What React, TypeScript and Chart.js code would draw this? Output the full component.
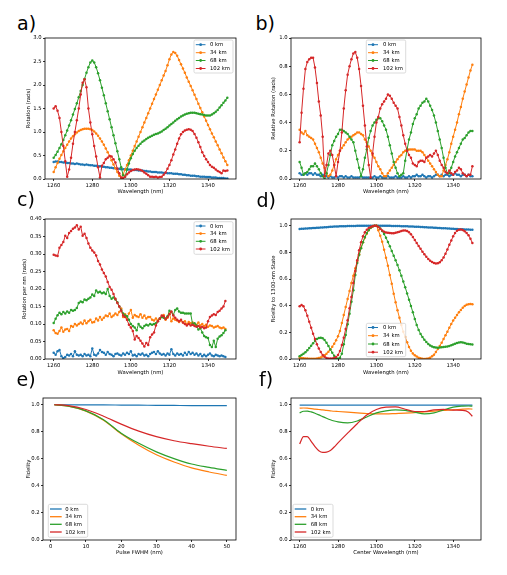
import React, { useEffect, useRef } from "react";
import { Chart, registerables } from "chart.js";

Chart.register(...registerables);

// ---------------- data ----------------
const SERIES_LABELS = ["0 km", "34 km", "68 km", "102 km"];
const SERIES_COLORS = ["#1f77b4", "#ff7f0e", "#2ca02c", "#d62728"];

const WAVELENGTH_NM = [
  1260, 1261, 1262, 1263, 1264, 1265, 1266, 1267, 1268, 1269,
  1270, 1271, 1272, 1273, 1274, 1275, 1276, 1277, 1278, 1279,
  1280, 1281, 1282, 1283, 1284, 1285, 1286, 1287, 1288, 1289,
  1290, 1291, 1292, 1293, 1294, 1295, 1296, 1297, 1298, 1299,
  1300, 1301, 1302, 1303, 1304, 1305, 1306, 1307, 1308, 1309,
  1310, 1311, 1312, 1313, 1314, 1315, 1316, 1317, 1318, 1319,
  1320, 1321, 1322, 1323, 1324, 1325, 1326, 1327, 1328, 1329,
  1330, 1331, 1332, 1333, 1334, 1335, 1336, 1337, 1338, 1339,
  1340, 1341, 1342, 1343, 1344, 1345, 1346, 1347, 1348, 1349,
  1350,
];

// a) Rotation (rads)
const A_0KM = [
  0.36, 0.37, 0.37, 0.36, 0.36, 0.35, 0.35, 0.34, 0.34, 0.33,
  0.33, 0.32, 0.33, 0.32, 0.31, 0.31, 0.30, 0.31, 0.30, 0.29,
  0.29, 0.28, 0.28, 0.27, 0.27, 0.26, 0.26, 0.25, 0.25, 0.24,
  0.24, 0.23, 0.23, 0.22, 0.22, 0.21, 0.21, 0.21, 0.20, 0.20,
  0.20, 0.19, 0.19, 0.19, 0.18, 0.18, 0.18, 0.17, 0.17, 0.16,
  0.16, 0.15, 0.15, 0.15, 0.14, 0.14, 0.14, 0.13, 0.13, 0.12,
  0.12, 0.12, 0.11, 0.11, 0.11, 0.10, 0.10, 0.09, 0.09, 0.08,
  0.08, 0.07, 0.07, 0.07, 0.06, 0.06, 0.05, 0.05, 0.05, 0.04,
  0.04, 0.04, 0.03, 0.03, 0.03, 0.02, 0.02, 0.02, 0.02, 0.01,
  0.01,
];
const A_34KM = [
  0.15, 0.25, 0.34, 0.43, 0.51, 0.59, 0.66, 0.73, 0.80, 0.86,
  0.91, 0.95, 0.99, 1.02, 1.04, 1.06, 1.07, 1.07, 1.07, 1.06,
  1.04, 1.01, 0.97, 0.92, 0.86, 0.80, 0.73, 0.65, 0.57, 0.49,
  0.40, 0.31, 0.23, 0.15, 0.07, 0.01, 0.10, 0.20, 0.30, 0.40,
  0.50, 0.60, 0.70, 0.80, 0.90, 1.00, 1.10, 1.20, 1.30, 1.40,
  1.50, 1.60, 1.70, 1.80, 1.90, 2.00, 2.10, 2.20, 2.30, 2.42,
  2.55, 2.65, 2.70, 2.68, 2.62, 2.53, 2.44, 2.35, 2.26, 2.16,
  2.07, 1.98, 1.89, 1.79, 1.70, 1.60, 1.51, 1.42, 1.33, 1.24,
  1.15, 1.06, 0.97, 0.89, 0.80, 0.72, 0.63, 0.55, 0.46, 0.38,
  0.30,
];
const A_68KM = [
  0.45, 0.51, 0.58, 0.66, 0.74, 0.83, 0.93, 1.03, 1.14, 1.25,
  1.37, 1.49, 1.61, 1.74, 1.87, 2.00, 2.13, 2.26, 2.38, 2.48,
  2.52, 2.48, 2.38, 2.25, 2.10, 1.94, 1.78, 1.61, 1.44, 1.27,
  1.10, 0.93, 0.76, 0.59, 0.42, 0.25, 0.08, 0.05, 0.20, 0.33,
  0.44, 0.53, 0.60, 0.66, 0.71, 0.75, 0.79, 0.82, 0.85, 0.88,
  0.90, 0.92, 0.94, 0.96, 0.97, 0.99, 1.01, 1.04, 1.07, 1.10,
  1.14, 1.17, 1.20, 1.24, 1.27, 1.30, 1.33, 1.35, 1.37, 1.39,
  1.40, 1.41, 1.41, 1.41, 1.40, 1.39, 1.38, 1.37, 1.36, 1.35,
  1.35, 1.35, 1.37, 1.40, 1.43, 1.47, 1.52, 1.57, 1.62, 1.67,
  1.73,
];
const A_102KM = [
  1.50, 1.55, 1.45, 1.30, 1.00, 0.70, 0.38, 0.05, 0.20, 0.45,
  0.75, 1.00, 1.25, 1.50, 1.80, 2.05, 2.12, 1.95, 1.50, 1.20,
  0.95, 0.70, 0.48, 0.25, 0.03, 0.28, 0.34, 0.42, 0.45, 0.49,
  0.48, 0.42, 0.35, 0.22, 0.12, 0.03, 0.02, 0.05, 0.10, 0.14,
  0.17, 0.19, 0.20, 0.21, 0.20, 0.19, 0.17, 0.14, 0.11, 0.08,
  0.05, 0.05, 0.04, 0.05, 0.03, 0.04, 0.05, 0.09, 0.14, 0.22,
  0.30, 0.40, 0.52, 0.63, 0.75, 0.86, 0.95, 1.00, 1.03, 1.05,
  1.06, 1.05, 1.02, 0.96, 0.88, 0.78, 0.68, 0.57, 0.49, 0.42,
  0.36, 0.30, 0.26, 0.24, 0.20, 0.17, 0.15, 0.12, 0.18, 0.17,
  0.18,
];

// b) Relative Rotation (rads)
const B_0KM = [
  0.04, 0.03, 0.03, 0.04, 0.03, 0.04, 0.04, 0.03, 0.04, 0.03,
  0.03, 0.02, 0.03, 0.02, 0.02, 0.01, 0.02, 0.01, 0.01, 0.02,
  0.01, 0.02, 0.02, 0.01, 0.02, 0.01, 0.01, 0.02, 0.01, 0.01,
  0.01, 0.01, 0.02, 0.01, 0.01, 0.01, 0.01, 0.01, 0.01, 0.02,
  0.01, 0.01, 0.02, 0.01, 0.01, 0.01, 0.02, 0.01, 0.01, 0.01,
  0.02, 0.01, 0.01, 0.01, 0.02, 0.01, 0.01, 0.02, 0.01, 0.02,
  0.02, 0.03, 0.02, 0.02, 0.03, 0.02, 0.01, 0.02, 0.02, 0.01,
  0.02, 0.03, 0.03, 0.02, 0.03, 0.02, 0.03, 0.03, 0.02, 0.03,
  0.03, 0.04, 0.03, 0.03, 0.02, 0.03, 0.03, 0.02, 0.03, 0.02,
  0.02,
];
const B_34KM = [
  0.35, 0.33, 0.32, 0.34, 0.31, 0.30, 0.29, 0.28, 0.25, 0.22,
  0.19, 0.15, 0.11, 0.08, 0.04, 0.02, 0.03, 0.06, 0.10, 0.14,
  0.17, 0.20, 0.22, 0.24, 0.26, 0.28, 0.29, 0.30, 0.31, 0.32,
  0.33, 0.33, 0.32, 0.31, 0.28, 0.26, 0.23, 0.20, 0.17, 0.15,
  0.12, 0.09, 0.07, 0.04, 0.02, 0.02, 0.04, 0.06, 0.08, 0.10,
  0.12, 0.14, 0.16, 0.17, 0.19, 0.20, 0.20, 0.21, 0.21, 0.21,
  0.21, 0.20, 0.20, 0.20, 0.19, 0.17, 0.15, 0.13, 0.11, 0.09,
  0.07, 0.05, 0.03, 0.02, 0.02, 0.06, 0.10, 0.14, 0.19, 0.25,
  0.30, 0.35, 0.40, 0.46, 0.51, 0.57, 0.62, 0.67, 0.72, 0.77,
  0.81,
];
const B_68KM = [
  0.12, 0.08, 0.03, 0.04, 0.05, 0.07, 0.09, 0.09, 0.11, 0.09,
  0.07, 0.04, 0.02, 0.00, 0.04, 0.10, 0.17, 0.24, 0.27, 0.30,
  0.32, 0.35, 0.35, 0.34, 0.33, 0.32, 0.30, 0.28, 0.26, 0.20,
  0.14, 0.08, 0.02, 0.07, 0.15, 0.21, 0.29, 0.34, 0.38, 0.40,
  0.42, 0.43, 0.43, 0.41, 0.38, 0.35, 0.30, 0.24, 0.18, 0.12,
  0.08, 0.04, 0.02, 0.03, 0.04, 0.13, 0.21, 0.28, 0.33, 0.39,
  0.43, 0.46, 0.50, 0.52, 0.54, 0.55, 0.57, 0.55, 0.52, 0.49,
  0.45, 0.40, 0.34, 0.28, 0.22, 0.15, 0.08, 0.04, 0.04, 0.08,
  0.12, 0.16, 0.19, 0.22, 0.25, 0.28, 0.29, 0.31, 0.33, 0.34,
  0.34,
];
const B_102KM = [
  0.26, 0.47, 0.64, 0.78, 0.83, 0.85, 0.86, 0.86, 0.79, 0.68,
  0.55, 0.45, 0.30, 0.02, 0.10, 0.18, 0.20, 0.17, 0.10, 0.02,
  0.12, 0.20, 0.33, 0.50, 0.63, 0.74, 0.80, 0.85, 0.89, 0.90,
  0.86, 0.78, 0.66, 0.52, 0.38, 0.23, 0.10, 0.01, 0.18, 0.30,
  0.40, 0.44, 0.50, 0.53, 0.55, 0.57, 0.60, 0.59, 0.57, 0.54,
  0.52, 0.50, 0.44, 0.38, 0.31, 0.25, 0.20, 0.17, 0.15, 0.11,
  0.10, 0.09, 0.12, 0.13, 0.13, 0.12, 0.15, 0.16, 0.17, 0.16,
  0.18, 0.20, 0.17, 0.13, 0.10, 0.08, 0.05, 0.04, 0.06, 0.04,
  0.03, 0.05, 0.06, 0.08, 0.07, 0.04, 0.03, 0.02, 0.03, 0.03,
  0.09,
];

// c) Rotation per nm (rads), 1260..1349
const C_0KM = [
  0.018, 0.012, 0.022, 0.026, 0.008, 0.002, 0.006, 0.012, 0.010, 0.014,
  0.008, 0.022, 0.012, 0.010, 0.012, 0.008, 0.014, 0.010, 0.012, 0.008,
  0.030, 0.012, 0.010, 0.016, 0.026, 0.020, 0.018, 0.012, 0.020, 0.014,
  0.012, 0.008, 0.014, 0.016, 0.012, 0.010, 0.016, 0.012, 0.018, 0.014,
  0.022, 0.010, 0.012, 0.008, 0.014, 0.012, 0.016, 0.010, 0.012, 0.008,
  0.014, 0.018, 0.020, 0.014, 0.022, 0.016, 0.012, 0.014, 0.010, 0.016,
  0.012, 0.028, 0.014, 0.010, 0.016, 0.012, 0.014, 0.010, 0.018, 0.012,
  0.020, 0.014, 0.018, 0.012, 0.016, 0.010, 0.014, 0.008, 0.012, 0.008,
  0.012, 0.016, 0.010, 0.008, 0.012, 0.010, 0.008, 0.010, 0.008, 0.006,
];
const C_34KM = [
  0.082, 0.074, 0.072, 0.080, 0.090, 0.078, 0.084, 0.086, 0.080, 0.094,
  0.092, 0.100, 0.096, 0.100, 0.104, 0.100, 0.110, 0.102, 0.108, 0.112,
  0.104, 0.106, 0.116, 0.110, 0.120, 0.112, 0.118, 0.124, 0.122, 0.130,
  0.120, 0.124, 0.130, 0.126, 0.134, 0.144, 0.120, 0.128, 0.118, 0.130,
  0.140, 0.118, 0.126, 0.122, 0.120, 0.128, 0.118, 0.124, 0.116, 0.120,
  0.120, 0.112, 0.110, 0.116, 0.110, 0.114, 0.120, 0.126, 0.112, 0.118,
  0.130, 0.108, 0.116, 0.112, 0.110, 0.106, 0.110, 0.104, 0.108, 0.100,
  0.106, 0.102, 0.104, 0.100, 0.098, 0.104, 0.096, 0.100, 0.094, 0.098,
  0.092, 0.096, 0.094, 0.090, 0.092, 0.094, 0.090, 0.088, 0.090, 0.086,
];
const C_68KM = [
  0.103, 0.115, 0.125, 0.132, 0.128, 0.134, 0.130, 0.136, 0.132, 0.140,
  0.138, 0.140, 0.146, 0.160, 0.164, 0.162, 0.170, 0.168, 0.172, 0.176,
  0.184, 0.180, 0.196, 0.190, 0.192, 0.188, 0.190, 0.186, 0.200, 0.180,
  0.172, 0.176, 0.170, 0.162, 0.150, 0.140, 0.130, 0.124, 0.122, 0.112,
  0.100, 0.094, 0.090, 0.082, 0.100, 0.092, 0.088, 0.094, 0.098, 0.096,
  0.100, 0.098, 0.100, 0.102, 0.108, 0.116, 0.120, 0.118, 0.116, 0.122,
  0.138, 0.134, 0.126, 0.140, 0.144, 0.136, 0.132, 0.132, 0.130, 0.130,
  0.130, 0.130, 0.100, 0.102, 0.096, 0.084, 0.088, 0.076, 0.066, 0.062,
  0.060, 0.040, 0.034, 0.052, 0.034, 0.058, 0.064, 0.068, 0.074, 0.082,
];
const C_102KM = [
  0.298, 0.296, 0.294, 0.318, 0.326, 0.334, 0.352, 0.346, 0.360, 0.366,
  0.372, 0.376, 0.382, 0.370, 0.378, 0.352, 0.358, 0.346, 0.330, 0.318,
  0.310, 0.304, 0.296, 0.280, 0.270, 0.256, 0.246, 0.236, 0.220, 0.206,
  0.198, 0.186, 0.172, 0.160, 0.150, 0.138, 0.124, 0.120, 0.112, 0.098,
  0.090, 0.080, 0.056, 0.066, 0.060, 0.052, 0.044, 0.036, 0.046, 0.040,
  0.062, 0.070, 0.076, 0.096, 0.108, 0.116, 0.124, 0.122, 0.114, 0.120,
  0.128, 0.136, 0.124, 0.118, 0.112, 0.108, 0.112, 0.104, 0.100, 0.096,
  0.100, 0.096, 0.098, 0.094, 0.092, 0.094, 0.090, 0.092, 0.088, 0.090,
  0.108, 0.120, 0.124, 0.128, 0.126, 0.134, 0.138, 0.144, 0.150, 0.166,
];

// d) Fidelity to 1300-nm State
const D_0KM = [
  0.975, 0.976, 0.977, 0.978, 0.979, 0.980, 0.981, 0.982, 0.983, 0.984,
  0.985, 0.986, 0.987, 0.988, 0.989, 0.990, 0.991, 0.992, 0.993, 0.994,
  0.994, 0.995, 0.995, 0.996, 0.996, 0.997, 0.997, 0.998, 0.998, 0.998,
  0.999, 0.999, 0.999, 0.999, 1.000, 1.000, 1.000, 1.000, 1.000, 1.000,
  1.000, 1.000, 1.000, 1.000, 0.999, 0.999, 0.999, 0.999, 0.998, 0.998,
  0.998, 0.997, 0.997, 0.996, 0.996, 0.995, 0.995, 0.994, 0.994, 0.993,
  0.992, 0.992, 0.991, 0.990, 0.990, 0.989, 0.988, 0.987, 0.986, 0.986,
  0.985, 0.984, 0.983, 0.982, 0.981, 0.980, 0.980, 0.979, 0.978, 0.977,
  0.976, 0.975, 0.975, 0.974, 0.973, 0.973, 0.972, 0.971, 0.971, 0.970,
  0.970,
];
const D_34KM = [
  0.010, 0.008, 0.006, 0.004, 0.003, 0.002, 0.001, 0.001, 0.002, 0.004,
  0.008, 0.012, 0.018, 0.028, 0.040, 0.055, 0.072, 0.092, 0.115, 0.140,
  0.170, 0.210, 0.270, 0.330, 0.390, 0.450, 0.510, 0.570, 0.625, 0.680,
  0.730, 0.785, 0.835, 0.875, 0.910, 0.940, 0.965, 0.982, 0.993, 0.999,
  1.000, 0.965, 0.925, 0.880, 0.820, 0.760, 0.700, 0.630, 0.565, 0.490,
  0.425, 0.365, 0.310, 0.255, 0.205, 0.165, 0.125, 0.090, 0.062, 0.042,
  0.028, 0.018, 0.010, 0.005, 0.002, 0.000, 0.001, 0.004, 0.010, 0.020,
  0.032, 0.052, 0.075, 0.098, 0.122, 0.150, 0.178, 0.205, 0.235, 0.262,
  0.288, 0.310, 0.330, 0.350, 0.368, 0.384, 0.397, 0.406, 0.411, 0.412,
  0.410,
];
const D_68KM = [
  0.020, 0.030, 0.040, 0.050, 0.065, 0.082, 0.100, 0.118, 0.135, 0.150,
  0.158, 0.160, 0.155, 0.142, 0.122, 0.098, 0.072, 0.046, 0.024, 0.008,
  0.002, 0.010, 0.040, 0.110, 0.180, 0.260, 0.340, 0.430, 0.515, 0.630,
  0.720, 0.780, 0.830, 0.875, 0.915, 0.945, 0.968, 0.984, 0.994, 0.999,
  1.000, 0.992, 0.978, 0.960, 0.938, 0.910, 0.878, 0.845, 0.810, 0.775,
  0.740, 0.705, 0.665, 0.625, 0.582, 0.538, 0.492, 0.445, 0.398, 0.350,
  0.300, 0.255, 0.218, 0.188, 0.165, 0.145, 0.128, 0.113, 0.102, 0.094,
  0.089, 0.086, 0.085, 0.086, 0.088, 0.090, 0.092, 0.094, 0.098, 0.103,
  0.108, 0.114, 0.120, 0.124, 0.125, 0.124, 0.120, 0.115, 0.112, 0.110,
  0.108,
];
const D_102KM = [
  0.395, 0.405, 0.395, 0.365, 0.325, 0.280, 0.235, 0.190, 0.150, 0.110,
  0.078, 0.052, 0.030, 0.016, 0.008, 0.004, 0.003, 0.004, 0.007, 0.015,
  0.030, 0.060, 0.105, 0.160, 0.225, 0.290, 0.380, 0.465, 0.570, 0.660,
  0.740, 0.815, 0.875, 0.920, 0.950, 0.970, 0.982, 0.990, 0.995, 0.999,
  1.000, 0.990, 0.977, 0.964, 0.954, 0.948, 0.946, 0.945, 0.944, 0.944,
  0.946, 0.950, 0.955, 0.960, 0.963, 0.964, 0.960, 0.950, 0.935, 0.915,
  0.893, 0.870, 0.848, 0.826, 0.805, 0.785, 0.766, 0.750, 0.737, 0.727,
  0.720, 0.717, 0.718, 0.725, 0.740, 0.762, 0.790, 0.822, 0.856, 0.888,
  0.920, 0.945, 0.962, 0.970, 0.972, 0.968, 0.958, 0.945, 0.928, 0.902,
  0.870,
];

// e) Fidelity vs pulse FWHM
const E_FWHM_NM = [1, 5, 10, 15, 20, 25, 30, 35, 40, 45, 50];
const E_0KM = [1.0, 1.0, 0.999, 0.999, 0.998, 0.997, 0.996, 0.995, 0.994, 0.994, 0.993];
const E_34KM = [1.0, 0.99, 0.953, 0.885, 0.785, 0.70, 0.63, 0.577, 0.533, 0.503, 0.478];
const E_68KM = [1.0, 0.99, 0.955, 0.89, 0.79, 0.715, 0.652, 0.602, 0.562, 0.537, 0.515];
const E_102KM = [1.0, 0.994, 0.965, 0.915, 0.857, 0.805, 0.764, 0.734, 0.712, 0.693, 0.677];

// f) Fidelity vs center wavelength
const F_CENTER_NM = [
  1260, 1262, 1264, 1266, 1268, 1270, 1272, 1274, 1276, 1278, 1280, 1285, 1290,
  1295, 1300, 1305, 1310, 1315, 1320, 1325, 1330, 1335, 1340, 1345, 1348, 1350,
];
const F_0KM = [
  0.998, 0.998, 0.998, 0.998, 0.998, 0.998, 0.998, 0.998, 0.998, 0.998, 0.998, 0.998, 0.998,
  0.998, 0.998, 0.998, 0.998, 0.998, 0.998, 0.998, 0.998, 0.998, 0.998, 0.998, 0.998, 0.998,
];
const F_34KM = [
  0.975, 0.976, 0.975, 0.972, 0.968, 0.965, 0.962, 0.958, 0.955, 0.952, 0.950, 0.945, 0.940,
  0.935, 0.932, 0.932, 0.935, 0.938, 0.942, 0.948, 0.953, 0.958, 0.962, 0.968, 0.970, 0.968,
];
const F_68KM = [
  0.940, 0.952, 0.953, 0.947, 0.937, 0.925, 0.912, 0.900, 0.889, 0.880, 0.873, 0.866, 0.880,
  0.910, 0.940, 0.955, 0.962, 0.958, 0.945, 0.933, 0.940, 0.962, 0.983, 0.990, 0.991, 0.990,
];
const F_102KM = [
  0.710, 0.765, 0.765, 0.730, 0.690, 0.660, 0.648, 0.650, 0.662, 0.688, 0.718, 0.790, 0.860,
  0.925, 0.965, 0.982, 0.984, 0.967, 0.950, 0.950, 0.962, 0.966, 0.960, 0.958, 0.945, 0.915,
];

// tick labels
const WL_TICKS = [1260, 1280, 1300, 1320, 1340];
const FWHM_TICKS = [0, 10, 20, 30, 40, 50];
const A_Y_TICKS = [0, 0.5, 1.0, 1.5, 2.0, 2.5, 3.0];
const C_Y_TICKS = [0, 0.05, 0.1, 0.15, 0.2, 0.25, 0.3, 0.35, 0.4];
const UNIT_Y_TICKS = [0, 0.2, 0.4, 0.6, 0.8, 1.0];

// ---------------- layout / style ----------------
const FONT_FAMILY = "'DejaVu Sans', 'Liberation Sans', sans-serif";
const FS = 5.3;
const LH = FS * 1.2;

type Legend = { x0: number; y0: number; x1: number; y1: number; rows: number[]; hx0: number; hx1: number; tx: number };
type PanelCfg = {
  tag: string;
  tagX: number;
  tagBase: number;
  L: number; R: number; T: number; B: number;
  yTitleX: number; xTitleY: number;
  xs: number[];
  series: number[][];
  markers: boolean;
  xMin: number; xMax: number; xTicks: number[]; xDec: number;
  yMin: number; yMax: number; yTicks: number[]; yDec: number;
  xTitle: string; yTitle: string;
  legend: Legend;
};

const ROWS_TOP = [44.7, 52.7, 60.5, 68.5];
const PANELS: PanelCfg[] = [
  {
    tag: "a)", tagX: 17, tagBase: 30,
    L: 45, R: 236, T: 38, B: 179, yTitleX: 29, xTitleY: 191.8,
    xs: WAVELENGTH_NM, series: [A_0KM, A_34KM, A_68KM, A_102KM], markers: true,
    xMin: 1255.5, xMax: 1354.5, xTicks: WL_TICKS, xDec: 0,
    yMin: 0, yMax: 3, yTicks: A_Y_TICKS, yDec: 1,
    xTitle: "Wavelength (nm)", yTitle: "Rotation (rads)",
    legend: { x0: 194, y0: 40, x1: 233, y1: 73, rows: ROWS_TOP, hx0: 195.8, hx1: 205.5, tx: 210 },
  },
  {
    tag: "b)", tagX: 255.5, tagBase: 30,
    L: 291, R: 481, T: 38, B: 179, yTitleX: 273.7, xTitleY: 192.3,
    xs: WAVELENGTH_NM, series: [B_0KM, B_34KM, B_68KM, B_102KM], markers: true,
    xMin: 1255.5, xMax: 1354.5, xTicks: WL_TICKS, xDec: 0,
    yMin: 0, yMax: 1, yTicks: UNIT_Y_TICKS, yDec: 1,
    xTitle: "Wavelength (nm)", yTitle: "Relative Rotation (rads)",
    legend: { x0: 366.3, y0: 40, x1: 405.7, y1: 73, rows: ROWS_TOP, hx0: 368, hx1: 378, tx: 383 },
  },
  {
    tag: "c)", tagX: 17, tagBase: 206,
    L: 45, R: 236, T: 219, B: 359, yTitleX: 25, xTitleY: 372.7,
    xs: WAVELENGTH_NM.slice(0, C_0KM.length), series: [C_0KM, C_34KM, C_68KM, C_102KM], markers: true,
    xMin: 1255.5, xMax: 1354.5, xTicks: WL_TICKS, xDec: 0,
    yMin: 0, yMax: 0.4, yTicks: C_Y_TICKS, yDec: 2,
    xTitle: "Wavelength (nm)", yTitle: "Rotation per nm (rads)",
    legend: { x0: 194, y0: 221.7, x1: 233, y1: 254.3, rows: [226, 233.6, 241.3, 249], hx0: 195.8, hx1: 205.5, tx: 210 },
  },
  {
    tag: "d)", tagX: 256.5, tagBase: 206.5,
    L: 291, R: 481, T: 219, B: 359, yTitleX: 273.7, xTitleY: 372.7,
    xs: WAVELENGTH_NM, series: [D_0KM, D_34KM, D_68KM, D_102KM], markers: true,
    xMin: 1255.5, xMax: 1354.5, xTicks: WL_TICKS, xDec: 0,
    yMin: 0, yMax: 1.05, yTicks: UNIT_Y_TICKS, yDec: 1,
    xTitle: "Wavelength (nm)", yTitle: "Fidelity to 1300-nm State",
    legend: { x0: 366.3, y0: 323.3, x1: 405.7, y1: 356.7, rows: [327.5, 335.7, 344, 352.2], hx0: 368, hx1: 378, tx: 383 },
  },
  {
    tag: "e)", tagX: 16.5, tagBase: 385.7,
    L: 43, R: 236, T: 398, B: 540, yTitleX: 28.3, xTitleY: 553.3,
    xs: E_FWHM_NM, series: [E_0KM, E_34KM, E_68KM, E_102KM], markers: false,
    xMin: -2.2, xMax: 52.6, xTicks: FWHM_TICKS, xDec: 0,
    yMin: 0, yMax: 1.05, yTicks: UNIT_Y_TICKS, yDec: 1,
    xTitle: "Pulse FWHM (nm)", yTitle: "Fidelity",
    legend: { x0: 48.3, y0: 504.3, x1: 87.7, y1: 537.3, rows: [509, 516.7, 524.3, 532], hx0: 50, hx1: 61.7, tx: 65.3 },
  },
  {
    tag: "f)", tagX: 259, tagBase: 386,
    L: 291, R: 481, T: 398, B: 540, yTitleX: 273.7, xTitleY: 553.3,
    xs: F_CENTER_NM, series: [F_0KM, F_34KM, F_68KM, F_102KM], markers: false,
    xMin: 1255.5, xMax: 1354.5, xTicks: WL_TICKS, xDec: 0,
    yMin: 0, yMax: 1.05, yTicks: UNIT_Y_TICKS, yDec: 1,
    xTitle: "Center Wavelength (nm)", yTitle: "Fidelity",
    legend: { x0: 293, y0: 504.3, x1: 333, y1: 537.3, rows: [509, 516.7, 524.3, 532], hx0: 294.7, hx1: 306.3, tx: 310.7 },
  },
];

function roundRectPath(ctx: CanvasRenderingContext2D, x: number, y: number, w: number, h: number, r: number) {
  ctx.beginPath();
  ctx.moveTo(x + r, y);
  ctx.lineTo(x + w - r, y);
  ctx.arcTo(x + w, y, x + w, y + r, r);
  ctx.lineTo(x + w, y + h - r);
  ctx.arcTo(x + w, y + h, x + w - r, y + h, r);
  ctx.lineTo(x + r, y + h);
  ctx.arcTo(x, y + h, x, y + h - r, r);
  ctx.lineTo(x, y + r);
  ctx.arcTo(x, y, x + r, y, r);
  ctx.closePath();
}

function Panel({ cfg }: { cfg: PanelCfg }) {
  const ref = useRef<HTMLCanvasElement | null>(null);
  const cl = cfg.L - 40;
  const ct = cfg.T - 8;
  const W = Math.round(cfg.R + 14 - cl);
  const H = Math.round(cfg.xTitleY + LH / 2 - ct);
  const padR = W - (cfg.R - cl);
  const xH = H - (cfg.B - ct);
  const yTitlePad = cfg.yTitleX - cl - LH / 2;

  useEffect(() => {
    const canvas = ref.current;
    if (!canvas) return;
    const font = { family: FONT_FAMILY, size: FS };
    const datasets = cfg.series.map((vals, i) => ({
      label: SERIES_LABELS[i],
      data: vals.map((v, j) => ({ x: cfg.xs[j], y: v })),
      borderColor: SERIES_COLORS[i],
      backgroundColor: SERIES_COLORS[i],
      borderWidth: cfg.markers ? 1 : 1.2,
      pointRadius: cfg.markers ? 1.25 : 0,
      pointHoverRadius: 0,
      pointBorderWidth: 0,
      pointBackgroundColor: SERIES_COLORS[i],
      cubicInterpolationMode: cfg.markers ? "default" : "monotone",
      tension: 0,
      order: 3 - i,
      clip: 0,
      fill: false,
    }));

    const decor = {
      id: "frameAndLegend",
      afterDraw(chart: any) {
        const ctx: CanvasRenderingContext2D = chart.ctx;
        const a = chart.chartArea;
        ctx.save();
        ctx.strokeStyle = "#000";
        ctx.lineWidth = 0.8;
        ctx.strokeRect(a.left, a.top, a.right - a.left, a.bottom - a.top);

        const lg = cfg.legend;
        roundRectPath(ctx, lg.x0 - cl, lg.y0 - ct, lg.x1 - lg.x0, lg.y1 - lg.y0, 1.5);
        ctx.fillStyle = "rgba(255,255,255,0.8)";
        ctx.fill();
        ctx.strokeStyle = "#cccccc";
        ctx.lineWidth = 0.7;
        ctx.stroke();
        ctx.font = `${FS}px ${FONT_FAMILY}`;
        ctx.textBaseline = "middle";
        ctx.textAlign = "left";
        lg.rows.forEach((ry, i) => {
          const y = ry - ct;
          ctx.strokeStyle = SERIES_COLORS[i];
          ctx.lineWidth = cfg.markers ? 1 : 1.3;
          ctx.beginPath();
          ctx.moveTo(lg.hx0 - cl, y);
          ctx.lineTo(lg.hx1 - cl, y);
          ctx.stroke();
          if (cfg.markers) {
            ctx.fillStyle = SERIES_COLORS[i];
            ctx.beginPath();
            ctx.arc((lg.hx0 + lg.hx1) / 2 - cl, y, 1.4, 0, Math.PI * 2);
            ctx.fill();
          }
          ctx.fillStyle = "#000";
          ctx.fillText(SERIES_LABELS[i], lg.tx - cl, y + 0.3);
        });
        ctx.restore();
      },
    };

    const chart = new Chart(canvas, {
      type: "line",
      data: { datasets: datasets as any },
      options: {
        animation: false,
        responsive: false,
        devicePixelRatio: 1,
        events: [],
        layout: { padding: { top: 8, right: padR, bottom: 0, left: 0 }, autoPadding: false } as any,
        plugins: { legend: { display: false }, tooltip: { enabled: false }, title: { display: false } },
        scales: {
          x: {
            type: "linear",
            min: cfg.xMin,
            max: cfg.xMax,
            afterBuildTicks: (s: any) => {
              s.ticks = cfg.xTicks.map((v) => ({ value: v }));
            },
            afterFit: (s: any) => {
              s.height = xH;
            },
            ticks: {
              autoSkip: false,
              maxRotation: 0,
              padding: 1,
              font,
              color: "#000",
              callback: (v: any) => Number(v).toFixed(cfg.xDec),
            },
            grid: { drawOnChartArea: false, drawTicks: true, tickLength: 2, color: "#000", lineWidth: 0.8 },
            border: { display: false },
            title: { display: true, text: cfg.xTitle, font, color: "#000", padding: { top: 0, bottom: 0 } },
          },
          y: {
            type: "linear",
            min: cfg.yMin,
            max: cfg.yMax,
            afterBuildTicks: (s: any) => {
              s.ticks = cfg.yTicks.map((v) => ({ value: v }));
            },
            afterFit: (s: any) => {
              s.width = 40;
            },
            ticks: {
              autoSkip: false,
              padding: 1.3,
              font,
              color: "#000",
              callback: (v: any) => Number(v).toFixed(cfg.yDec),
            },
            grid: { drawOnChartArea: false, drawTicks: true, tickLength: 2, color: "#000", lineWidth: 0.8 },
            border: { display: false },
            title: { display: true, text: cfg.yTitle, font, color: "#000", padding: { top: yTitlePad, bottom: 0 } },
          },
        },
      } as any,
      plugins: [decor],
    });
    return () => chart.destroy();
  }, []);

  return (
    <>
      <div
        style={{
          position: "absolute",
          left: cfg.tagX,
          top: cfg.tagBase - 16.6,
          fontFamily: FONT_FAMILY,
          fontSize: 19,
          lineHeight: "20px",
          color: "#000",
          whiteSpace: "nowrap",
        }}
      >
        {cfg.tag}
      </div>
      <canvas
        ref={ref}
        width={W}
        height={H}
        style={{ position: "absolute", left: cl, top: ct, width: W, height: H }}
      />
    </>
  );
}

export default function App() {
  return (
    <div style={{ position: "absolute", left: 0, top: 0, width: 507, height: 575, background: "#fff" }}>
      {PANELS.map((p) => (
        <Panel key={p.tag} cfg={p} />
      ))}
    </div>
  );
}
